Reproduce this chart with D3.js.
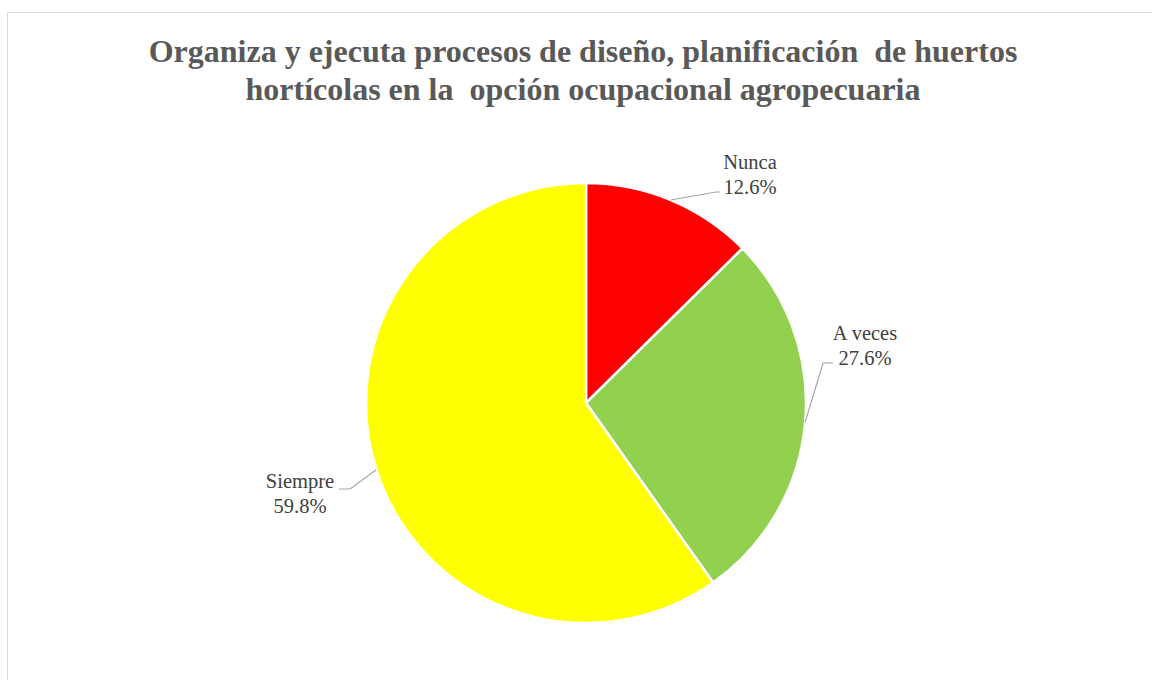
<!DOCTYPE html>
<html lang="es">
<head>
    <meta charset="UTF-8">
    <title>Organiza y ejecuta procesos de diseño</title>
    <style>
        body { margin: 0; background: #fff; }
        #chart { display: block; }
    </style>
</head>
<body>
    <svg id="chart" width="1152" height="680"></svg>
    <script src="https://d3js.org/d3.v7.min.js"></script>
    <script>
        // data
        const categories = ["Nunca", "A veces", "Siempre"];
        const percents = [12.6, 27.6, 59.8];
        const sliceColors = ["#ff0000", "#92d050", "#ffff00"];
        const titleLines = ["Organiza y ejecuta procesos de diseño, planificación\u00a0 de huertos",
                            "hortícolas en la\u00a0 opción ocupacional agropecuaria"];

        // label placement (offsets from pie centre): text centre, first baseline, leader elbow
        const labelLayout = [
            { tx: 164, ty: -234, ex: 130, ey: -211, ex2: 134 },
            { tx: 279, ty: -63, ex: 237, ey: -40, ex2: 247 },
            { tx: -286, ty: 85, ex: -236, ey: 86, ex2: -247 }
        ];

        const serif = "'Liberation Serif', 'Times New Roman', serif";
        const svg = d3.select("#chart");
        const cx = 586, cy = 403, radius = 220;

        // chart area border
        svg.append("rect")
            .attr("x", 7.5).attr("y", 12.5)
            .attr("width", 1200).attr("height", 720)
            .attr("fill", "none").attr("stroke", "#d9d9d9");

        svg.selectAll(".title")
            .data(titleLines)
            .enter().append("text")
            .attr("class", "title")
            .attr("x", 583)
            .attr("y", (d, i) => 62 + i * 38)
            .attr("text-anchor", "middle")
            .style("font-family", serif)
            .style("font-weight", "bold")
            .style("font-size", "32px")
            .style("fill", "#595959")
            .text(d => d);

        const pie = d3.pie().sort(null).value(d => d)(percents);
        const arc = d3.arc().innerRadius(0).outerRadius(radius);
        const edge = d3.arc().innerRadius(radius).outerRadius(radius);

        const g = svg.append("g").attr("transform", `translate(${cx},${cy})`);

        g.selectAll("path.slice")
            .data(pie)
            .enter().append("path")
            .attr("class", "slice")
            .attr("d", arc)
            .attr("fill", (d, i) => sliceColors[i])
            .attr("stroke", "#fff")
            .attr("stroke-width", 2.5)
            .attr("stroke-linejoin", "round");

        // leader lines
        g.selectAll("polyline.lead")
            .data(pie)
            .enter().append("polyline")
            .attr("class", "lead")
            .attr("points", (d, i) => {
                const p = edge.centroid(d), l = labelLayout[i];
                return [p, [l.ex, l.ey], [l.ex2, l.ey]].map(q => q.join(",")).join(" ");
            })
            .attr("fill", "none")
            .attr("stroke", "#a6a6a6")
            .attr("stroke-width", 1.2);

        const labels = g.selectAll("text.lbl")
            .data(pie)
            .enter().append("text")
            .attr("class", "lbl")
            .attr("text-anchor", "middle")
            .attr("x", (d, i) => labelLayout[i].tx)
            .attr("y", (d, i) => labelLayout[i].ty)
            .style("font-family", serif)
            .style("font-size", "20.5px")
            .style("fill", "#404040");

        labels.append("tspan").text((d, i) => categories[i]);
        labels.append("tspan")
            .attr("x", (d, i) => labelLayout[i].tx)
            .attr("dy", 25)
            .text((d, i) => d3.format(".1f")(percents[i]) + "%");
    </script>
</body>
</html>
